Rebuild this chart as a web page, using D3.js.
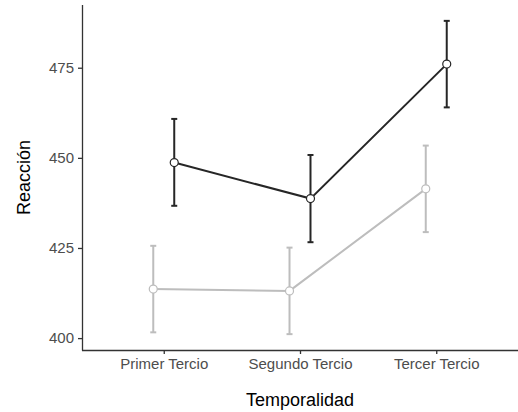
<!DOCTYPE html>
<html>
<head>
<meta charset="utf-8">
<script src="https://cdn.jsdelivr.net/npm/d3@7"></script>
<style>
  body { margin: 0; background: #fff; }
  text { font-family: "Liberation Sans", Arial, sans-serif; }
</style>
</head>
<body>
<div id="chart"></div>
<script>
const categories = ["Primer Tercio", "Segundo Tercio", "Tercer Tercio"];
const yTicks = [400, 425, 450, 475];

// dark series
const darkMean = [448.7, 438.7, 476.0];
const darkLow  = [436.7, 426.6, 464.0];
const darkHigh = [460.8, 450.8, 488.0];

// light series
const lightMean = [413.6, 413.1, 441.4];
const lightLow  = [401.6, 401.1, 429.4];
const lightHigh = [425.6, 425.1, 453.4];

const width = 518, height = 412;
const mLeft = 82, mTop = 5, mRight = 518, mBottom = 350;

const svg = d3.select("#chart").append("svg")
    .attr("width", width)
    .attr("height", height);

const x = d3.scalePoint()
    .domain(categories)
    .range([mLeft, mRight])
    .padding(0.6);

const y = d3.scaleLinear()
    .domain([396.7, 492.4])
    .range([mBottom, mTop]);

const dodge = x.step() * 0.077;

const series = [
    { mean: lightMean, low: lightLow, high: lightHigh, color: "#bdbdbd", off: -dodge },
    { mean: darkMean, low: darkLow, high: darkHigh, color: "#262626", off: dodge }
];

series.forEach(s => {
    const pts = categories.map((c, i) => ({ x: x(c) + s.off, m: s.mean[i], lo: s.low[i], hi: s.high[i] }));
    const g = svg.append("g");

    g.append("path")
        .datum(pts)
        .attr("fill", "none")
        .attr("stroke", s.color)
        .attr("stroke-width", 2)
        .attr("d", d3.line().x(d => d.x).y(d => y(d.m)));

    const eb = g.selectAll(".eb").data(pts).join("g");
    eb.append("line")
        .attr("x1", d => d.x).attr("x2", d => d.x)
        .attr("y1", d => y(d.lo)).attr("y2", d => y(d.hi))
        .attr("stroke", s.color).attr("stroke-width", 2);
    eb.append("line")
        .attr("x1", d => d.x - 3).attr("x2", d => d.x + 3)
        .attr("y1", d => y(d.lo)).attr("y2", d => y(d.lo))
        .attr("stroke", s.color).attr("stroke-width", 2);
    eb.append("line")
        .attr("x1", d => d.x - 3).attr("x2", d => d.x + 3)
        .attr("y1", d => y(d.hi)).attr("y2", d => y(d.hi))
        .attr("stroke", s.color).attr("stroke-width", 2);

    g.selectAll("circle").data(pts).join("circle")
        .attr("cx", d => d.x)
        .attr("cy", d => y(d.m))
        .attr("r", 4)
        .attr("fill", "#fff")
        .attr("stroke", s.color)
        .attr("stroke-width", 1.2);
});

// axes
const xAxis = svg.append("g")
    .attr("transform", `translate(0,${mBottom})`)
    .call(d3.axisBottom(x).tickSize(4).tickPadding(4));
xAxis.select(".domain").attr("d", `M${mLeft},0.5H${mRight}`);

const yAxis = svg.append("g")
    .attr("transform", `translate(${mLeft},0)`)
    .call(d3.axisLeft(y).tickValues(yTicks).tickSize(4).tickPadding(4));
yAxis.select(".domain").attr("d", `M0.5,${mTop}V${mBottom + 0.5}`);

[xAxis, yAxis].forEach(a => {
    a.select(".domain").attr("stroke", "#333").attr("stroke-width", 1.3);
    a.selectAll(".tick line").attr("stroke", "#333").attr("stroke-width", 1.3);
    a.selectAll(".tick text")
        .attr("fill", "#4d4d4d")
        .style("font-size", "15px")
        .style("font-family", "'Liberation Sans', Arial, sans-serif");
});

svg.append("text")
    .attr("x", (mLeft + mRight) / 2)
    .attr("y", 406)
    .attr("text-anchor", "middle")
    .style("font-size", "18px")
    .attr("fill", "#000")
    .text("Temporalidad");

svg.append("text")
    .attr("transform", `translate(30,${(mTop + mBottom) / 2}) rotate(-90)`)
    .attr("text-anchor", "middle")
    .style("font-size", "18px")
    .attr("fill", "#000")
    .text("Reacción");
</script>
</body>
</html>
